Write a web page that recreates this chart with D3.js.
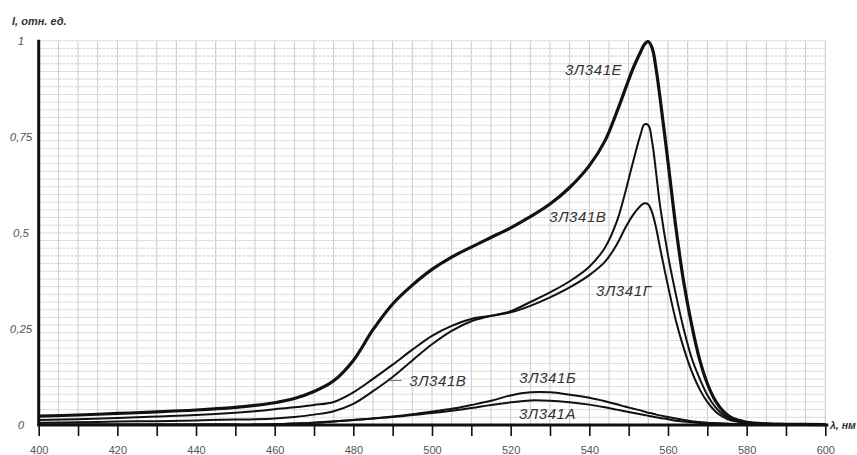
<!DOCTYPE html>
<html>
<head>
<meta charset="utf-8">
<script src="https://cdn.jsdelivr.net/npm/d3@7"></script>
<style>
  html, body { margin: 0; padding: 0; background: #fff; }
  svg { display: block; font-family: "Liberation Sans", Arial, sans-serif; }
</style>
</head>
<body>
<svg id="chart" width="857" height="455"></svg>
<script>
// Wavelength grid, nm
const wavelengths = [400,410,420,430,440,450,455,460,465,470,475,480,485,490,495,500,505,510,515,520,525,530,535,540,544,547,549,551,553,554,555,556,557,558,560,562,564,566,568,570,572,574,576,578,580,585,590,600];

// Relative intensity of each LED type on that grid
const seriesE = [0.023,0.026,0.030,0.034,0.039,0.046,0.051,0.058,0.069,0.087,0.115,0.168,0.248,0.315,0.364,0.405,0.437,0.463,0.488,0.513,0.542,0.575,0.618,0.675,0.740,0.815,0.870,0.925,0.970,0.990,0.998,0.980,0.925,0.850,0.685,0.515,0.372,0.262,0.172,0.108,0.064,0.036,0.020,0.012,0.007,0.003,0.002,0.001];
const seriesV = [0.006,0.007,0.009,0.010,0.012,0.014,0.015,0.017,0.021,0.027,0.036,0.055,0.088,0.125,0.168,0.210,0.245,0.270,0.284,0.296,0.320,0.345,0.374,0.412,0.462,0.530,0.600,0.680,0.755,0.782,0.780,0.735,0.655,0.570,0.442,0.340,0.250,0.175,0.122,0.078,0.047,0.027,0.015,0.009,0.006,0.003,0.002,0.001];
const seriesG = [0.013,0.015,0.018,0.022,0.026,0.032,0.036,0.041,0.046,0.052,0.060,0.085,0.120,0.157,0.196,0.232,0.258,0.276,0.284,0.293,0.310,0.332,0.358,0.390,0.425,0.470,0.510,0.545,0.570,0.577,0.574,0.552,0.512,0.460,0.362,0.272,0.200,0.140,0.094,0.060,0.036,0.021,0.012,0.008,0.005,0.003,0.002,0.001];
const seriesB = [0.001,0.001,0.001,0.001,0.001,0.001,0.001,0.002,0.004,0.006,0.009,0.013,0.017,0.022,0.028,0.035,0.042,0.052,0.063,0.077,0.085,0.085,0.079,0.071,0.062,0.054,0.048,0.043,0.038,0.035,0.032,0.030,0.027,0.025,0.021,0.017,0.013,0.010,0.008,0.006,0.005,0.004,0.003,0.002,0.002,0.001,0.001,0.001];
const seriesA = [0.001,0.001,0.001,0.001,0.001,0.001,0.001,0.002,0.004,0.006,0.009,0.013,0.017,0.021,0.026,0.031,0.037,0.044,0.052,0.059,0.064,0.063,0.059,0.053,0.046,0.040,0.036,0.032,0.028,0.026,0.024,0.022,0.020,0.018,0.015,0.011,0.009,0.007,0.005,0.004,0.003,0.003,0.002,0.002,0.002,0.001,0.001,0.001];

// Tick labels
const xTickValues = [400,420,440,460,480,500,520,540,560,580,600];
const yTickValues = [0, 0.25, 0.5, 0.75, 1];
const yTickText = ["0", "0,25", "0,5", "0,75", "1"];

// Curve captions: text, anchor wavelength, anchor intensity
const captionText = ["3Л341Е", "3Л341В", "3Л341Г", "3Л341В", "3Л341Б", "3Л341А"];
const captionLambda = [533.8, 529.8, 541.7, 494.2, 522.2, 522.1];
const captionValue = [0.925, 0.542, 0.351, 0.115, 0.124, 0.030];

const svg = d3.select("#chart");
const W = 857, H = 455;
svg.append("rect").attr("width", W).attr("height", H).attr("fill", "#fff");

const x = d3.scaleLinear().domain([400, 600]).range([38.7, 825.3]);
const y = d3.scaleLinear().domain([0, 1]).range([425, 40.7]);

// Grid: verticals every 5 nm, horizontals every 0.02
const grid = svg.append("g");
grid.selectAll("line.v")
  .data(d3.range(405, 600.1, 5))
  .join("line")
  .attr("x1", d => x(d)).attr("x2", d => x(d))
  .attr("y1", y(1)).attr("y2", y(0))
  .attr("stroke", "#c9c9c9").attr("stroke-width", 1);
grid.selectAll("line.h")
  .data(d3.range(1, 51).map(i => i * 0.02))
  .join("line")
  .attr("x1", x(400)).attr("x2", x(600))
  .attr("y1", d => y(d)).attr("y2", d => y(d))
  .attr("stroke", "#d2d2d2").attr("stroke-width", 1)
  .attr("stroke-dasharray", "3,1");

// Curves
const line = d3.line()
  .x((d, i) => x(wavelengths[i]))
  .y(d => y(d))
  .curve(d3.curveCatmullRom.alpha(0.5));

const curves = [
  { values: seriesA, width: 2 },
  { values: seriesB, width: 2 },
  { values: seriesG, width: 2 },
  { values: seriesV, width: 2 },
  { values: seriesE, width: 3.2 }
];
svg.append("g").selectAll("path")
  .data(curves)
  .join("path")
  .attr("d", d => line(d.values))
  .attr("fill", "none")
  .attr("stroke", "#111")
  .attr("stroke-width", d => d.width)
  .attr("stroke-linejoin", "round");

// X axis
const xAxis = d3.axisBottom(x)
  .tickValues(d3.range(400, 600.1, 10))
  .tickSize(11)
  .tickFormat(d => xTickValues.includes(d) ? d : "");
const gx = svg.append("g")
  .attr("transform", `translate(0,${y(0)})`)
  .call(xAxis);
gx.select(".domain").remove();
gx.selectAll(".tick line").attr("stroke", "#111").attr("stroke-width", 1.6);
gx.selectAll(".tick text")
  .attr("y", 21)
  .attr("fill", "#555")
  .style("font-size", "11px")
  .style("font-family", "'Liberation Sans', Arial, sans-serif");
svg.append("line")
  .attr("x1", x(400) - 1.5).attr("x2", x(600) + 3)
  .attr("y1", y(0)).attr("y2", y(0))
  .attr("stroke", "#111").attr("stroke-width", 3);

// Y axis
svg.append("line")
  .attr("x1", x(400)).attr("x2", x(400))
  .attr("y1", y(1) - 1).attr("y2", y(0))
  .attr("stroke", "#111").attr("stroke-width", 3);
svg.append("g").selectAll("text")
  .data(yTickValues)
  .join("text")
  .attr("x", 21)
  .attr("y", d => y(d))
  .attr("dy", "0.35em")
  .attr("text-anchor", "middle")
  .attr("fill", "#555")
  .style("font-size", "11.5px")
  .style("font-style", "italic")
  .text((d, i) => yTickText[i]);

// Axis titles
svg.append("text")
  .attr("x", 12).attr("y", 25)
  .attr("fill", "#333")
  .style("font-size", "11px")
  .style("font-weight", "bold")
  .style("font-style", "italic")
  .text("I, отн. ед.");
svg.append("text")
  .attr("x", 830).attr("y", y(0))
  .attr("dy", "0.35em")
  .attr("fill", "#333")
  .style("font-size", "10.5px")
  .style("font-weight", "bold")
  .style("font-style", "italic")
  .text("λ, нм");

// Leader for the lower caption
svg.append("line")
  .attr("x1", x(489.3)).attr("x2", x(492.3))
  .attr("y1", y(0.116)).attr("y2", y(0.116))
  .attr("stroke", "#666").attr("stroke-width", 1);

// Curve captions
svg.append("g").selectAll("text")
  .data(captionText)
  .join("text")
  .attr("x", (d, i) => x(captionLambda[i]))
  .attr("y", (d, i) => y(captionValue[i]))
  .attr("dy", "0.36em")
  .attr("fill", "#333")
  .style("font-size", "15px")
  .style("font-style", "italic")
  .style("letter-spacing", "0.6px")
  .text(d => d);
</script>
</body>
</html>
